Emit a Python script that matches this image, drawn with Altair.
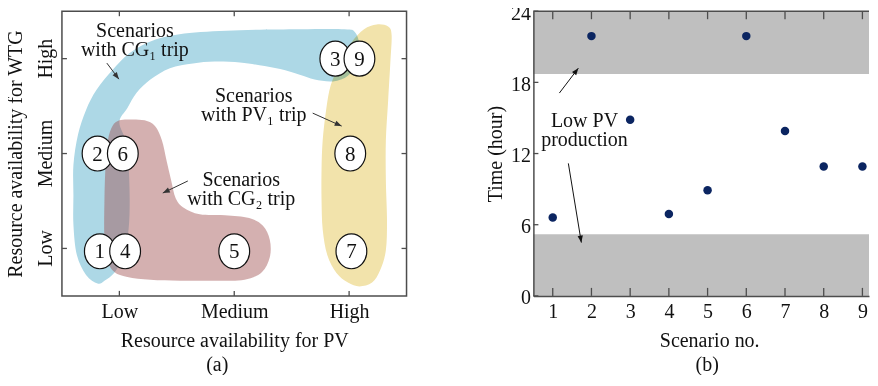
import math
import altair as alt
import pandas as pd

FONT = "Liberation Serif"
INK = "#111111"
FRAME = "#4d4d4d"

# ---------------- panel (a) data ----------------
level_names = ["Low", "Medium", "High"]
level_values = [1, 2, 3]

scenario_ids = ["1", "2", "3", "4", "5", "6", "7", "8", "9"]
scenario_pv = [0.83, 0.81, 2.88, 1.05, 2.00, 1.03, 3.02, 3.01, 3.09]
scenario_wtg = [0.97, 2.00, 3.00, 0.97, 0.97, 2.00, 0.97, 2.00, 3.00]

# outlines of the shaded groups (PV level, WTG level)
cg1_pv = [0.81, 0.71, 0.63, 0.60, 0.60, 0.60, 0.64, 0.71, 0.80, 0.94, 1.09, 1.31, 1.61, 2.05,
          2.57, 2.96, 3.05, 3.09, 3.07, 2.99, 2.86, 2.70, 2.57, 2.40, 2.22, 2.05, 1.83, 1.64,
          1.44, 1.27, 1.15, 1.07, 1.00, 1.06, 1.08, 1.09, 1.08, 1.04, 0.96, 0.87]
cg1_wtg = [0.63, 0.72, 0.93, 1.25, 1.56, 1.88, 2.20, 2.46, 2.67, 2.88, 3.06, 3.20, 3.27, 3.30,
           3.31, 3.31, 3.28, 3.14, 2.96, 2.82, 2.76, 2.78, 2.83, 2.89, 2.93, 2.96, 2.97, 2.95,
           2.90, 2.78, 2.64, 2.48, 2.33, 2.12, 1.88, 1.51, 1.20, 0.93, 0.75, 0.66]

cg2_pv = [1.09, 1.22, 1.31, 1.37, 1.41, 1.45, 1.49, 1.56, 1.70, 1.92, 2.13, 2.25, 2.31, 2.31,
          2.24, 2.09, 1.87, 1.53, 1.27, 1.07, 0.96, 0.90, 0.87, 0.87, 0.88, 0.90, 0.94, 1.00]
cg2_wtg = [2.36, 2.35, 2.29, 2.14, 1.93, 1.72, 1.53, 1.43, 1.36, 1.35, 1.32, 1.24, 1.09, 0.91,
           0.75, 0.67, 0.66, 0.66, 0.67, 0.70, 0.75, 0.86, 1.09, 1.51, 1.88, 2.14, 2.29, 2.35]

pv1_pv = [3.24, 3.34, 3.37, 3.36, 3.34, 3.32, 3.32, 3.33, 3.32, 3.27, 3.20, 3.09, 2.99, 2.89,
          2.81, 2.77, 2.76, 2.76, 2.77, 2.80, 2.84, 2.92, 3.02, 3.13]
pv1_wtg = [3.36, 3.34, 3.25, 2.98, 2.56, 2.14, 1.72, 1.30, 0.98, 0.77, 0.64, 0.60, 0.64, 0.74,
           0.93, 1.20, 1.51, 1.83, 2.14, 2.46, 2.72, 2.95, 3.17, 3.31]

group_text = ["Scenarios\nwith CG\u2081 trip", "Scenarios\nwith PV\u2081 trip", "Scenarios\nwith CG\u2082 trip"]
group_text_pv = [1.135, 2.17, 2.061]
group_text_wtg = [3.211, 2.526, 1.642]

arrow_a_x1 = [0.891, 2.683, 1.596]
arrow_a_y1 = [2.953, 2.426, 1.711]
arrow_a_x2 = [0.996, 2.935, 1.378]
arrow_a_y2 = [2.784, 2.289, 1.584]

# ---------------- panel (b) data ----------------
scenario_no = [1, 2, 3, 4, 5, 6, 7, 8, 9]
trip_hour = [6.6, 21.9, 14.85, 6.9, 8.9, 21.9, 13.9, 10.9, 10.9]
band_start = [0, 18.7]
band_end = [5.2, 24]
hour_ticks = [0, 6, 12, 18, 24]
note_text = ["Low PV\nproduction"]
note_x = [1.82]
note_y = [14.1]
arrow_b_x1 = [1.171, 1.403]
arrow_b_y1 = [17.1, 11.17]
arrow_b_x2 = [1.661, 1.739]
arrow_b_y2 = [19.2, 4.49]

# ---------------- helpers ----------------
HEAD = "M0,0 L0.38,1 L-0.38,1 Z"
ELLIPSE = "M-0.88,0 A0.88,1 0 1 1 0.88,0 A0.88,1 0 1 1 -0.88,0 Z"


def head_angles(x1, y1, x2, y2, kx, ky):
    out = []
    for a, b, c, d in zip(x1, y1, x2, y2):
        dx = (c - a) * kx
        dy = -(d - b) * ky
        out.append(math.degrees(math.atan2(dx, -dy)) % 360)
    return out


# ================= panel (a) =================
W_A, H_A = 345, 285
xa = alt.Scale(domain=[0.5, 3.5], nice=False, zero=False)
ya = alt.Scale(domain=[0.5, 3.5], nice=False, zero=False)
expr_a = "datum.value == %d ? '%s' : datum.value == %d ? '%s' : '%s'" % (
    level_values[0], level_names[0], level_values[1], level_names[1], level_names[2])
axis_xa = alt.Axis(values=level_values, labelExpr=expr_a, title="Resource availability for PV",
                   domain=False, labelPadding=6, titlePadding=9, zindex=1)
axis_ya = alt.Axis(values=level_values, labels=False, title="Resource availability for WTG",
                   domain=False, titlePadding=36, zindex=1)


def XA(f="x"):
    return alt.X(f + ":Q", scale=xa, axis=axis_xa)


def YA(f="y"):
    return alt.Y(f + ":Q", scale=ya, axis=axis_ya)


def blob(xs, ys, color, opacity, blend):
    df = pd.DataFrame({"x": xs, "y": ys, "i": list(range(len(xs)))})
    kw = dict(interpolate="cardinal-closed", fill=color, fillOpacity=opacity, stroke=color,
              strokeOpacity=0, strokeWidth=0)
    if blend:
        kw["blend"] = blend
    return alt.Chart(df).mark_line(**kw).encode(x=XA(), y=YA(), order="i:Q")


blue = blob(cg1_pv, cg1_wtg, "#add8e6", 1, None)
brown = blob(cg2_pv, cg2_wtg, "#a05050", 0.45, None)
yellow = blob(pv1_pv, pv1_wtg, "#f2e3ab", 1, "multiply")

lvl_y = pd.DataFrame({"y": level_values, "t": level_names})
lvl_x = pd.DataFrame({"x": level_values})
tick_kw = dict(color=FRAME, strokeWidth=1.3)
ticks_a = [
    alt.Chart(lvl_y).mark_rule(**tick_kw).encode(y=YA(), x=alt.value(0), x2=alt.value(5)),
    alt.Chart(lvl_y).mark_rule(**tick_kw).encode(y=YA(), x=alt.value(W_A - 5), x2=alt.value(W_A)),
    alt.Chart(lvl_x).mark_rule(**tick_kw).encode(x=XA(), y=alt.value(0), y2=alt.value(5)),
    alt.Chart(lvl_x).mark_rule(**tick_kw).encode(x=XA(), y=alt.value(H_A - 5), y2=alt.value(H_A)),
]

# rotated y labels of panel (a)
ylabels_a = alt.Chart(lvl_y).mark_text(font=FONT, fontSize=20, angle=270, align="center",
                                       baseline="bottom", color=INK).encode(
    y=YA(), x=alt.value(-6), text="t:N")

texts_a = alt.Chart(pd.DataFrame({"x": group_text_pv, "y": group_text_wtg, "t": group_text})).mark_text(
    font=FONT, fontSize=20, lineBreak="\n", lineHeight=19, align="center", baseline="middle",
    dy=-7.5, color=INK
).encode(x=XA(), y=YA(), text="t:N")

arr_a = pd.DataFrame({"x": arrow_a_x1, "y": arrow_a_y1, "x2": arrow_a_x2, "y2": arrow_a_y2,
                      "a": head_angles(arrow_a_x1, arrow_a_y1, arrow_a_x2, arrow_a_y2, W_A / 3, H_A / 3)})
arrow_lines_a = alt.Chart(arr_a).mark_rule(color="#333333", strokeWidth=1).encode(
    x=XA(), y=YA(), x2="x2:Q", y2="y2:Q")
arrow_heads_a = alt.Chart(arr_a).mark_point(shape=HEAD, size=196, filled=True, color="#333333", opacity=1).encode(
    x=XA("x2"), y=YA("y2"), angle=alt.Angle("a:Q", scale=None))

scen_df = pd.DataFrame({"x": scenario_pv, "y": scenario_wtg, "t": scenario_ids})
circles = alt.Chart(scen_df).mark_point(shape=ELLIPSE, size=1225, filled=True, fill="white",
                                        stroke="#111111", strokeWidth=1.2, opacity=1).encode(x=XA(), y=YA())
numbers = alt.Chart(scen_df).mark_text(font=FONT, fontSize=21, align="center", baseline="middle",
                                       dy=1, color=INK).encode(x=XA(), y=YA(), text="t:N")

panel_a = alt.layer(blue, brown, yellow, *ticks_a, ylabels_a, arrow_lines_a, arrow_heads_a, texts_a,
                    circles, numbers).properties(
    width=W_A, height=H_A,
    view=alt.ViewBackground(stroke=FRAME, strokeWidth=1.5),
    title=alt.TitleParams("(a)", orient="bottom", anchor="middle", frame="group", dx=-17, offset=4,
                          font=FONT, fontSize=20, fontWeight="normal", color=INK),
)

# ================= panel (b) =================
W_B, H_B = 336, 285
X_MAX_B = 9.17
xb = alt.Scale(domain=[0.5, X_MAX_B], nice=False, zero=False)
yb = alt.Scale(domain=[0, 24], nice=False, zero=False)
axis_xb = alt.Axis(values=scenario_no, format="d", title="Scenario no.", domain=True,
                   domainColor=FRAME, domainWidth=1.5, labelPadding=6, titlePadding=9,
                   titleX=176, zindex=1)
axis_yb = alt.Axis(values=hour_ticks, format="d", title="Time (hour)", domain=True,
                   domainColor=FRAME, domainWidth=1.5, labelPadding=3, titlePadding=5,
                   labelOffset=2, zindex=1)


def XB(f="x"):
    return alt.X(f + ":Q", scale=xb, axis=axis_xb)


def YB(f="y"):
    return alt.Y(f + ":Q", scale=yb, axis=axis_yb)


bands = alt.Chart(pd.DataFrame({"y": band_start, "y2": band_end})).mark_rect(color="#bfbfbf").encode(
    y=YB(), y2="y2:Q")
top_line = alt.Chart(pd.DataFrame({"y": [hour_ticks[-1]]})).mark_rule(color=FRAME, strokeWidth=1.5).encode(y=YB())

hy = pd.DataFrame({"y": hour_ticks})
sx = pd.DataFrame({"x": scenario_no})
ticks_b = [
    alt.Chart(hy).mark_rule(**tick_kw).encode(y=YB(), x=alt.value(0), x2=alt.value(5)),
    alt.Chart(sx).mark_rule(**tick_kw).encode(x=XB(), y=alt.value(0), y2=alt.value(8)),
    alt.Chart(sx).mark_rule(**tick_kw).encode(x=XB(), y=alt.value(H_B - 8), y2=alt.value(H_B)),
]

points = alt.Chart(pd.DataFrame({"x": scenario_no, "y": trip_hour})).mark_circle(
    size=72, color="#0b2561", opacity=1).encode(x=XB(), y=YB())

note = alt.Chart(pd.DataFrame({"x": note_x, "y": note_y, "t": note_text})).mark_text(
    font=FONT, fontSize=20, lineBreak="\n", lineHeight=19, align="center", baseline="middle",
    dy=-8, color=INK
).encode(x=XB(), y=YB(), text="t:N")

arr_b = pd.DataFrame({"x": arrow_b_x1, "y": arrow_b_y1, "x2": arrow_b_x2, "y2": arrow_b_y2,
                      "a": head_angles(arrow_b_x1, arrow_b_y1, arrow_b_x2, arrow_b_y2,
                                       W_B / (X_MAX_B - 0.5), H_B / 24)})
arrow_lines_b = alt.Chart(arr_b).mark_rule(color="#111111", strokeWidth=1).encode(
    x=XB(), y=YB(), x2="x2:Q", y2="y2:Q")
arrow_heads_b = alt.Chart(arr_b).mark_point(shape=HEAD, size=196, filled=True, color="#111111", opacity=1).encode(
    x=XB("x2"), y=YB("y2"), angle=alt.Angle("a:Q", scale=None))

panel_b = alt.layer(bands, top_line, *ticks_b, points, note, arrow_lines_b, arrow_heads_b).properties(
    width=W_B, height=H_B,
    view=alt.ViewBackground(strokeWidth=0, stroke="transparent"),
    title=alt.TitleParams("(b)", orient="bottom", anchor="middle", frame="group", dx=6, offset=4,
                          font=FONT, fontSize=20, fontWeight="normal", color=INK),
)

chart = alt.hconcat(panel_a, panel_b, spacing=77).properties(
    padding={"left": -3, "top": -5, "right": 0, "bottom": -1}
).configure_axis(
    labelFont=FONT, labelFontSize=20, labelColor=INK, titleFont=FONT, titleFontSize=20,
    titleFontWeight="normal", titleColor=INK, grid=False, ticks=False, tickSize=0,
).configure_view(strokeWidth=0)

chart.save("out.html", embed_options={"renderer": "svg", "actions": False})
